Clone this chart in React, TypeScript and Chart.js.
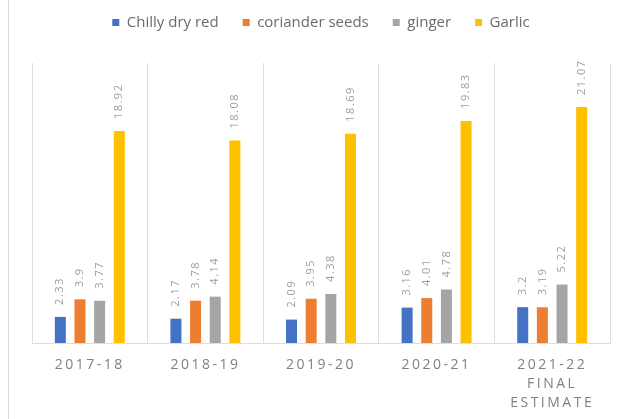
import React, { useEffect, useRef } from 'react';
import { Chart, registerables } from 'chart.js';

Chart.register(...registerables);

const categories: string[][] = [
  ['2017-18'],
  ['2018-19'],
  ['2019-20'],
  ['2020-21'],
  ['2021-22', 'FINAL', 'ESTIMATE'],
];
const seriesNames = ['Chilly dry red', 'coriander seeds', 'ginger', 'Garlic'];
const chillyDryRed = [2.33, 2.17, 2.09, 3.16, 3.2];
const corianderSeeds = [3.9, 3.78, 3.95, 4.01, 3.19];
const ginger = [3.77, 4.14, 4.38, 4.78, 5.22];
const garlic = [18.92, 18.08, 18.69, 19.83, 21.07];
const seriesColors = ['#4472C4', '#ED7D31', '#A5A5A5', '#FFC000'];
const yMin = 0;
const yMax = 25;

const FONT = "'Open Sans', 'DejaVu Sans', sans-serif";

const legendSpacer = {
  id: 'legendSpacer',
  beforeInit(chart: any) {
    const lg = chart.legend;
    if (lg && !lg.__patched) {
      const orig = lg.fit.bind(lg);
      lg.fit = function () {
        orig();
        this.height = 72;
      };
      lg.__patched = true;
    }
  },
};

const valueLabels = {
  id: 'valueLabels',
  afterDatasetsDraw(chart: any) {
    const ctx = chart.ctx;
    ctx.save();
    ctx.font = `11px ${FONT}`;
    ctx.fillStyle = '#9d9d9d';
    (ctx as any).letterSpacing = '1.5px';
    ctx.textAlign = 'left';
    ctx.textBaseline = 'middle';
    chart.data.datasets.forEach((ds: any, di: number) => {
      const meta = chart.getDatasetMeta(di);
      meta.data.forEach((bar: any, i: number) => {
        const v = ds.data[i];
        ctx.save();
        ctx.translate(bar.x, bar.y - 12);
        ctx.rotate(-Math.PI / 2);
        ctx.fillText(String(v), 0, 0);
        ctx.restore();
      });
    });
    ctx.restore();
    // letter spacing for the x tick labels drawn next (ticks z: 1)
    (ctx as any).letterSpacing = '2.5px';
  },
  afterDraw(chart: any) {
    (chart.ctx as any).letterSpacing = '0px';
  },
};

export default function App() {
  const ref = useRef<HTMLCanvasElement | null>(null);

  useEffect(() => {
    document.body.style.margin = '0';
    const canvas = ref.current;
    if (!canvas) return;
    const values = [chillyDryRed, corianderSeeds, ginger, garlic];
    const chart = new Chart(canvas, {
      type: 'bar',
      data: {
        labels: categories as any,
        datasets: seriesNames.map((name, i) => ({
          label: name,
          data: values[i],
          backgroundColor: seriesColors[i],
          borderWidth: 0,
          categoryPercentage: 0.68,
          barPercentage: 0.56,
        })),
      },
      options: {
        responsive: false,
        animation: false,
        layout: { padding: { top: -9, left: 23, right: 8, bottom: -7 } },
        plugins: {
          legend: {
            position: 'top',
            labels: {
              boxWidth: 7,
              boxHeight: 7,
              padding: 24,
              color: '#6b6b6b',
              font: { family: FONT, size: 15 },
            },
          },
          tooltip: { enabled: false },
        },
        scales: {
          x: {
            grid: {
              color: '#dedede',
              lineWidth: 1,
              drawTicks: false,
              offset: true,
            },
            border: { color: '#dedede' },
            ticks: {
              z: 1,
              padding: 13,
              color: '#808080',
              font: { family: FONT, size: 14, lineHeight: 19 / 14 },
              maxRotation: 0,
              autoSkip: false,
            },
          },
          y: {
            display: false,
            min: yMin,
            max: yMax,
          },
        },
      },
      plugins: [legendSpacer, valueLabels],
    });
    return () => chart.destroy();
  }, []);

  return (
    <div style={{ position: 'relative', width: 618, height: 419, background: '#fff', overflow: 'hidden' }}>
      <div style={{ position: 'absolute', left: 8, top: 0, width: 1, height: 419, background: '#d9d9d9' }} />
      <canvas
        ref={ref}
        width={609}
        height={419}
        style={{ position: 'absolute', left: 9, top: 0, width: 609, height: 419 }}
      />
    </div>
  );
}
